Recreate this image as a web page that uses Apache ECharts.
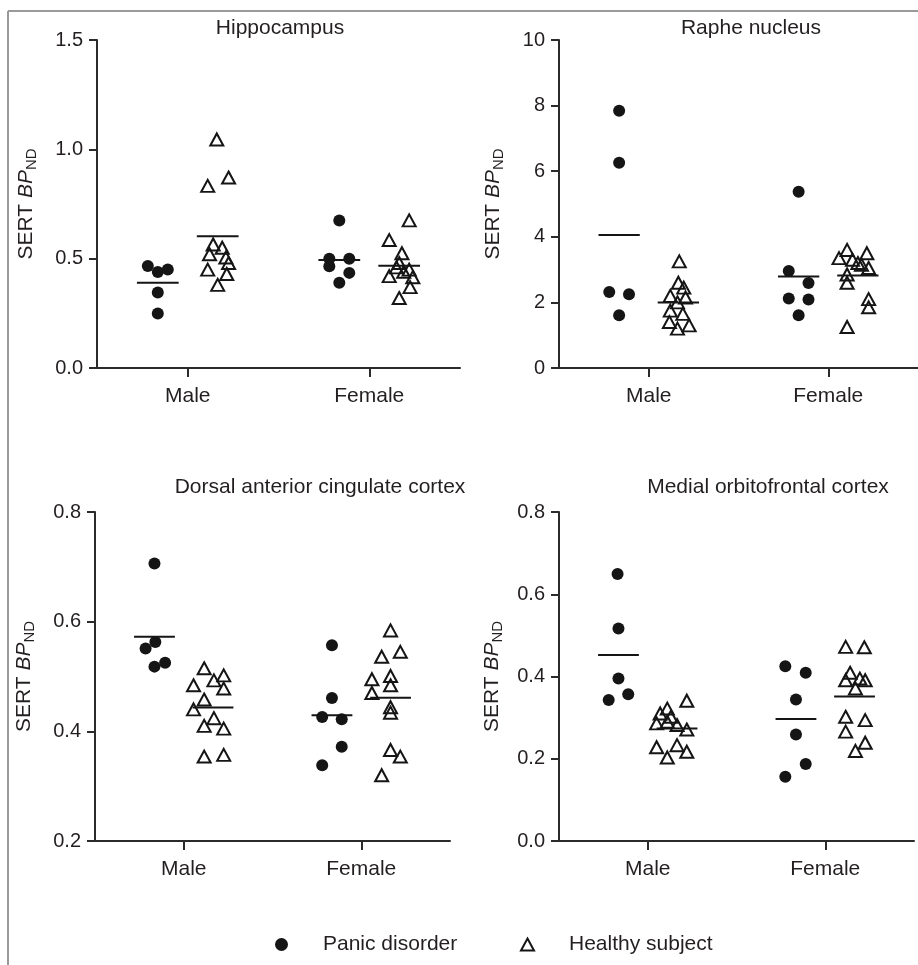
<!DOCTYPE html>
<html>
<head>
<meta charset="utf-8">
<script src="https://cdn.jsdelivr.net/npm/echarts@6/dist/echarts.min.js"></script>
<style>
  html, body { margin: 0; padding: 0; background: #fff; }
  #chart { width: 918px; height: 965px; }
</style>
</head>
<body>
<div id="chart"></div>
<script>
// categories + legend names
const sexes = ["Male", "Female"];
const groupNames = ["Panic disorder", "Healthy subject"];

// Hippocampus (values + horizontal jitter in category units)
const hipMalePD = [0.467, 0.439, 0.450, 0.345, 0.249];
const hipMalePDJit = [-0.22, -0.165, -0.11, -0.165, -0.165];
const hipMaleHS = [1.045, 0.871, 0.833, 0.565, 0.550, 0.520, 0.505, 0.480, 0.450, 0.430, 0.380];
const hipMaleHSJit = [0.16, 0.225, 0.11, 0.14, 0.19, 0.12, 0.21, 0.225, 0.11, 0.215, 0.165];
const hipFemPD = [0.675, 0.500, 0.500, 0.465, 0.435, 0.390];
const hipFemPDJit = [-0.165, -0.22, -0.11, -0.22, -0.11, -0.165];
const hipFemHS = [0.675, 0.585, 0.525, 0.480, 0.460, 0.450, 0.440, 0.420, 0.415, 0.370, 0.320];
const hipFemHSJit = [0.22, 0.11, 0.18, 0.165, 0.15, 0.22, 0.19, 0.11, 0.24, 0.225, 0.165];

// Raphe nucleus
const rapMalePD = [7.84, 6.26, 2.32, 2.25, 1.61];
const rapMalePDJit = [-0.165, -0.165, -0.22, -0.11, -0.165];
const rapMaleHS = [3.25, 2.6, 2.45, 2.2, 2.15, 2.0, 1.75, 1.65, 1.4, 1.3, 1.2];
const rapMaleHSJit = [0.17, 0.165, 0.195, 0.12, 0.205, 0.16, 0.12, 0.19, 0.115, 0.225, 0.16];
const rapFemPD = [5.37, 2.96, 2.59, 2.12, 2.09, 1.61];
const rapFemPDJit = [-0.165, -0.22, -0.11, -0.22, -0.11, -0.165];
const rapFemHS = [3.6, 3.5, 3.35, 3.3, 3.2, 3.15, 3.05, 2.85, 2.6, 2.1, 1.85, 1.25];
const rapFemHSJit = [0.105, 0.215, 0.06, 0.135, 0.165, 0.185, 0.225, 0.105, 0.105, 0.225, 0.225, 0.105];

// Dorsal anterior cingulate cortex
const dacMalePD = [0.706, 0.563, 0.551, 0.525, 0.518];
const dacMalePDJit = [-0.165, -0.16, -0.215, -0.105, -0.165];
const dacMaleHS = [0.515, 0.502, 0.493, 0.484, 0.478, 0.458, 0.440, 0.424, 0.410, 0.405, 0.357, 0.354];
const dacMaleHSJit = [0.115, 0.225, 0.17, 0.055, 0.225, 0.115, 0.055, 0.17, 0.115, 0.225, 0.225, 0.115];
const dacFemPD = [0.557, 0.461, 0.426, 0.422, 0.372, 0.338];
const dacFemPDJit = [-0.165, -0.165, -0.22, -0.11, -0.11, -0.22];
const dacFemHS = [0.584, 0.545, 0.536, 0.501, 0.495, 0.484, 0.470, 0.444, 0.434, 0.366, 0.354, 0.320];
const dacFemHSJit = [0.165, 0.22, 0.115, 0.165, 0.06, 0.165, 0.06, 0.165, 0.165, 0.165, 0.22, 0.115];

// Medial orbitofrontal cortex
const mofMalePD = [0.649, 0.517, 0.395, 0.357, 0.343];
const mofMalePDJit = [-0.17, -0.165, -0.165, -0.11, -0.22];
const mofMaleHS = [0.341, 0.322, 0.310, 0.302, 0.290, 0.286, 0.282, 0.271, 0.233, 0.228, 0.217, 0.203];
const mofMaleHSJit = [0.22, 0.11, 0.07, 0.13, 0.11, 0.05, 0.165, 0.22, 0.165, 0.05, 0.22, 0.11];
const mofFemPD = [0.425, 0.409, 0.344, 0.259, 0.187, 0.156];
const mofFemPDJit = [-0.225, -0.11, -0.165, -0.165, -0.11, -0.225];
const mofFemHS = [0.472, 0.471, 0.409, 0.395, 0.391, 0.391, 0.371, 0.302, 0.294, 0.266, 0.239, 0.219];
const mofFemHSJit = [0.115, 0.22, 0.14, 0.195, 0.115, 0.225, 0.17, 0.115, 0.225, 0.115, 0.225, 0.17];

const FONT = "'Liberation Sans', Arial, sans-serif";
const INK = "#231f20";

// layout per panel
const panels = [
  { title: "Hippocampus", tx: 280, ty: 18, grid: { left: 97, top: 40, width: 363, height: 328 },
    min: 0, max: 1.5, step: 0.5, digits: 1, nameGap: 58,
    pd: [[hipMalePD, hipMalePDJit], [hipFemPD, hipFemPDJit]],
    hs: [[hipMaleHS, hipMaleHSJit], [hipFemHS, hipFemHSJit]] },
  { title: "Raphe nucleus", tx: 751, ty: 18, grid: { left: 559, top: 40, width: 363, height: 328 },
    min: 0, max: 10, step: 2, digits: 0, nameGap: 53,
    pd: [[rapMalePD, rapMalePDJit], [rapFemPD, rapFemPDJit]],
    hs: [[rapMaleHS, rapMaleHSJit], [rapFemHS, rapFemHSJit]] },
  { title: "Dorsal anterior cingulate cortex", tx: 320, ty: 477, grid: { left: 95, top: 512, width: 355, height: 329 },
    min: 0.2, max: 0.8, step: 0.2, digits: 1, nameGap: 58,
    pd: [[dacMalePD, dacMalePDJit], [dacFemPD, dacFemPDJit]],
    hs: [[dacMaleHS, dacMaleHSJit], [dacFemHS, dacFemHSJit]] },
  { title: "Medial orbitofrontal cortex", tx: 768, ty: 477, grid: { left: 559, top: 512, width: 355, height: 329 },
    min: 0, max: 0.8, step: 0.2, digits: 1, nameGap: 54,
    pd: [[mofMalePD, mofMalePDJit], [mofFemPD, mofFemPDJit]],
    hs: [[mofMaleHS, mofMaleHSJit], [mofFemHS, mofFemHSJit]] }
];

const mean = (arr) => arr.reduce((a, b) => a + b, 0) / arr.length;
const toPoints = (groups) =>
  groups.flatMap(([vals, jit], ci) => vals.map((v, k) => [ci + jit[k], v]));

const axisLine = { show: true, onZero: false, lineStyle: { color: "#2b2b2b", width: 2 } };

const grid = [], xAxis = [], yAxis = [], series = [], title = [];

panels.forEach((p, i) => {
  grid.push(Object.assign({ containLabel: false }, p.grid));
  title.push({
    text: p.title, left: p.tx, top: p.ty, textAlign: "center", padding: 0,
    textStyle: { fontFamily: FONT, fontSize: 21, fontWeight: "normal", color: INK }
  });
  // visible category axis
  xAxis.push({
    type: "category", gridIndex: i, data: sexes, boundaryGap: true,
    axisLine: axisLine,
    axisTick: { show: true, alignWithLabel: true, length: 9, lineStyle: { color: "#2b2b2b", width: 2 } },
    axisLabel: { margin: 18, fontFamily: FONT, fontSize: 21, color: INK }
  });
  // hidden value axis for jittered points
  xAxis.push({ type: "value", gridIndex: i, min: -0.5, max: 1.5, show: false });
  yAxis.push({
    type: "value", gridIndex: i, min: p.min, max: p.max, interval: p.step,
    axisLine: axisLine,
    axisTick: { show: true, length: 8, lineStyle: { color: "#2b2b2b", width: 2 } },
    splitLine: { show: false },
    axisLabel: { margin: 14, fontFamily: FONT, fontSize: 20, color: INK,
      formatter: (v) => v.toFixed(p.digits) },
    name: "{a|SERT }{b|BP}{c|ND}", nameLocation: "middle", nameGap: p.nameGap,
    nameTextStyle: {
      color: INK,
      rich: {
        a: { fontFamily: FONT, fontSize: 21, color: INK },
        b: { fontFamily: FONT, fontSize: 21, fontStyle: "italic", color: INK },
        c: { fontFamily: FONT, fontSize: 15, color: INK, padding: [10, 0, 0, 0] }
      }
    }
  });
  const xi = 2 * i + 1;
  series.push({
    name: groupNames[0], type: "scatter", xAxisIndex: xi, yAxisIndex: i,
    symbol: "circle", symbolSize: 12, itemStyle: { color: "#151515", opacity: 1 },
    data: toPoints(p.pd)
  });
  series.push({
    name: groupNames[1], type: "scatter", xAxisIndex: xi, yAxisIndex: i,
    symbol: "triangle", symbolSize: [13, 12],
    itemStyle: { color: "rgba(255,255,255,0)", borderColor: "#151515", borderWidth: 2, opacity: 1 },
    data: toPoints(p.hs)
  });
  // mean lines
  [[p.pd, -0.165], [p.hs, 0.165]].forEach(([groups, off]) => {
    groups.forEach(([vals], ci) => {
      const m = mean(vals);
      series.push({
        name: "mean", type: "line", xAxisIndex: xi, yAxisIndex: i,
        symbol: "none", silent: true, z: 3,
        lineStyle: { color: "#151515", width: 2 },
        data: [[ci + off - 0.115, m], [ci + off + 0.115, m]]
      });
    });
  });
});

const legendText = { fontFamily: FONT, fontSize: 21, color: INK, padding: [0, 0, 0, 30] };

const option = {
  animation: false,
  backgroundColor: "#fff",
  title: title,
  grid: grid,
  xAxis: xAxis,
  yAxis: yAxis,
  series: series,
  legend: [
    { data: [groupNames[0]], left: 270, top: 929, itemWidth: 13, itemHeight: 13,
      selectedMode: false, textStyle: legendText },
    { data: [groupNames[1]], left: 515, top: 929, itemWidth: 13, itemHeight: 12,
      selectedMode: false, textStyle: legendText }
  ],
  graphic: [
    // frame around figure
    { type: "line", shape: { x1: 8, y1: 11, x2: 918, y2: 11 }, style: { stroke: "#9a9a9a", lineWidth: 2 } },
    { type: "line", shape: { x1: 8, y1: 11, x2: 8, y2: 965 }, style: { stroke: "#9a9a9a", lineWidth: 2 } }
  ]
};

const chart = echarts.init(document.getElementById("chart"));
chart.setOption(option);
</script>
</body>
</html>
